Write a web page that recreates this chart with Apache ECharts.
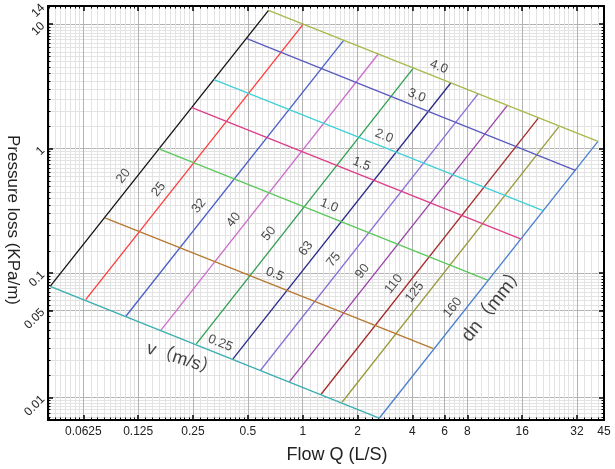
<!DOCTYPE html>
<html><head><meta charset="utf-8">
<script src="https://cdn.jsdelivr.net/npm/echarts@6/dist/echarts.min.js"></script>
<style>html,body{margin:0;padding:0;background:#fff}#c{width:615px;height:469px}</style>
</head><body><div id="c"></div>
<script>
// ---- axes (flow Q in L/S on a base-2 log scale, pressure loss in KPa/m on a base-10 log scale)
const xRange = [0.04, 45];
const yRange = [0.0066, 14];
const xTickLabels = ['0.0625','0.125','0.25','0.5','1','2','4','6','8','16','32','45'];
const xTickValues = [0.0625,0.125,0.25,0.5,1,2,4,6,8,16,32,45];
const yTickLabels = ['0.01','0.05','0.1','1','10','14'];
const yTickValues = [0.01,0.05,0.1,1,10,14];

// ---- pipe diameter lines dn (mm): end on v=0.25 line (low) and on v=4.0 line (high)
const diameters = ['20','25','32','40','50','63','75','90','110','125','160'];
const dnQLow  = [0.0411,0.0644,0.1070,0.1664,0.2607,0.4141,0.5867,0.8457,1.261,1.643,2.629];
const dnJLow  = [0.0783,0.0612,0.0450,0.0347,0.0270,0.02046,0.01657,0.01344,0.01063,0.00917,0.00682];
const dnQHigh = [0.649,1.009,1.677,2.596,4.035,6.49,9.19,13.25,19.57,25.41,41.7];
const dnJHigh = [12.91,10.04,7.41,5.76,4.42,3.37,2.765,2.215,1.751,1.494,1.144];

// ---- velocity lines v (m/s): end on dn20 (left) and on dn160 (right)
const velocities = ['0.25','0.5','1.0','1.5','2.0','3.0','4.0'];
const vQLeft  = [0.0411,0.0821,0.1627,0.2449,0.3257,0.4937,0.649];
const vJLeft  = [0.0783,0.2775,0.9945,2.146,3.583,7.65,12.91];
const vQRight = [2.629,5.21,10.42,15.68,20.85,31.36,41.7];
const vJRight = [0.00682,0.02474,0.0875,0.1883,0.3177,0.669,1.144];

// ---- annotation texts
const annTexts = ['dn\uFF08mm\uFF09', 'v\uFF08m/s\uFF09'];
const annQ = [11.2, 0.218];
const annJ = [0.0564, 0.0202];

// ---- styles
const dnColors = ['#111111','#ff3b3b','#4a5fc8','#cc6fcc','#2e9e4f','#2a2a8a','#8a6fd6','#9b3fa8','#a52a2a','#9a9a3a','#4a7fd0'];
const vColors  = ['#3aaeb0','#b8772f','#5ac85a','#dd3d88','#3fd0d8','#5a5ac0','#a8b84a'];
const FONT = 'Liberation Sans, Arial, Noto Sans CJK SC, sans-serif';

const L2 = Math.log2, L10 = Math.log10;
const xMin = L2(xRange[0]), xMax = L2(xRange[1]);
const yMin = L10(yRange[0]), yMax = L10(yRange[1]);
const xMajor = xTickValues.map(L2);
const yMajor = yTickValues.map(L10);
const xMinor = [];
for (let k = -5; k <= 5; k++) for (let m = 11; m <= 19; m++) {
  const q = Math.pow(2, k) * m / 10;
  if (q > xRange[0] && q < xRange[1]) xMinor.push(L2(q));
}
const yMinor = [];
for (let k = -3; k <= 1; k++) for (let m = 3; m <= 19; m++) {
  const q = Math.pow(10, k) * m / 2;
  if (q > yRange[0] && q < yRange[1]) yMinor.push(L10(q));
}
function nearest(v, vals, labels, f) {
  let best = 0, bd = Infinity;
  vals.forEach((q, i) => { const d = Math.abs(f(q) - v); if (d < bd) { bd = d; best = i; } });
  return labels[best];
}

const series = [];
diameters.forEach((d, i) => {
  series.push({
    type: 'line', name: 'dn' + d, xAxisIndex: 2, yAxisIndex: 2, silent: true,
    symbol: 'none', lineStyle: { color: dnColors[i], width: 1.3 },
    data: [[L2(dnQLow[i]), L10(dnJLow[i])], [L2(dnQHigh[i]), L10(dnJHigh[i])]]
  });
});
velocities.forEach((v, i) => {
  series.push({
    type: 'line', name: 'v' + v, xAxisIndex: 2, yAxisIndex: 2, silent: true,
    symbol: 'none', lineStyle: { color: vColors[i], width: 1.3 },
    data: [[L2(vQLeft[i]), L10(vJLeft[i])], [L2(vQRight[i]), L10(vJRight[i])]]
  });
});
// labels along the lines
const tDn = 0.375, tV = 0.505;
series.push({
  type: 'scatter', xAxisIndex: 2, yAxisIndex: 2, silent: true, symbolSize: 1,
  itemStyle: { color: 'rgba(0,0,0,0)' },
  label: { show: true, position: 'inside', formatter: '{b}', rotate: 51.6, offset: [0, -11],
           fontSize: 13, color: '#1a1a1a', fontFamily: FONT },
  data: diameters.map((d, i) => ({
    name: d,
    value: [L2(dnQLow[i]) + tDn * (L2(dnQHigh[i]) - L2(dnQLow[i])),
            L10(dnJLow[i]) + tDn * (L10(dnJHigh[i]) - L10(dnJLow[i]))]
  }))
});
series.push({
  type: 'scatter', xAxisIndex: 2, yAxisIndex: 2, silent: true, symbolSize: 1,
  itemStyle: { color: 'rgba(0,0,0,0)' },
  label: { show: true, position: 'inside', formatter: '{b}', rotate: -21.7, offset: [0, -10.5],
           fontSize: 13, color: '#1a1a1a', fontFamily: FONT },
  data: velocities.map((v, i) => ({
    name: v,
    value: [L2(vQLeft[i]) + tV * (L2(vQRight[i]) - L2(vQLeft[i])),
            L10(vJLeft[i]) + tV * (L10(vJRight[i]) - L10(vJLeft[i]))]
  }))
});
series.push({
  type: 'scatter', xAxisIndex: 2, yAxisIndex: 2, silent: true, symbolSize: 1,
  itemStyle: { color: 'rgba(0,0,0,0)' },
  label: { show: true, position: 'inside', formatter: '{b}', fontSize: 19, color: '#111', fontFamily: FONT },
  data: [
    { name: annTexts[0], value: [L2(annQ[0]), L10(annJ[0])], label: { rotate: 51.6 } },
    { name: annTexts[1], value: [L2(annQ[1]), L10(annJ[1])], label: { rotate: -18, fontSize: 18 } }
  ]
});

const axisLineStyle = { show: true, onZero: false, lineStyle: { color: '#000', width: 2 } };
const noLine = { show: false, onZero: false };
const minorTick = (vals) => ({ show: true, inside: true, length: 2.5, customValues: vals, lineStyle: { color: '#000', width: 1 } });
const majorTick = (vals) => ({ show: true, inside: true, length: 5, customValues: vals, lineStyle: { color: '#000', width: 1.5 } });
const minorSplit = { show: true, lineStyle: { color: '#e3e3e3', width: 1 } };
const majorSplit = { show: true, lineStyle: { color: '#b3b3b3', width: 1 } };

const option = {
  animation: false,
  backgroundColor: '#fff',
  grid: { left: 48, right: 11, top: 6, bottom: 49, containLabel: false, outerBoundsMode: 'none' },
  xAxis: [
    { type: 'value', position: 'bottom', min: xMin, max: xMax, axisLine: noLine, axisTick: minorTick(xMinor),
      axisLabel: { show: false }, splitLine: minorSplit },
    { type: 'value', position: 'top', min: xMin, max: xMax, axisLine: noLine, axisTick: minorTick(xMinor),
      axisLabel: { show: false }, splitLine: { show: false } },
    { type: 'value', position: 'bottom', min: xMin, max: xMax, axisLine: axisLineStyle, axisTick: majorTick(xMajor),
      axisLabel: { customValues: xMajor, margin: 6, fontSize: 12, color: '#222', fontFamily: FONT,
                   formatter: v => nearest(v, xTickValues, xTickLabels, L2) },
      splitLine: majorSplit,
      name: 'Flow Q (L/S)', nameLocation: 'middle', nameGap: 26, nameMoveOverlap: false,
      nameTextStyle: { fontSize: 18, color: '#222', fontFamily: FONT, padding: [0, 0, 0, 22] } },
    { type: 'value', position: 'top', min: xMin, max: xMax, axisLine: axisLineStyle, axisTick: majorTick(xMajor),
      axisLabel: { show: false }, splitLine: { show: false } }
  ],
  yAxis: [
    { type: 'value', position: 'left', min: yMin, max: yMax, axisLine: noLine, axisTick: minorTick(yMinor),
      axisLabel: { show: false }, splitLine: minorSplit },
    { type: 'value', position: 'right', min: yMin, max: yMax, axisLine: noLine, axisTick: minorTick(yMinor),
      axisLabel: { show: false }, splitLine: { show: false } },
    { type: 'value', position: 'left', min: yMin, max: yMax, axisLine: axisLineStyle, axisTick: majorTick(yMajor),
      axisLabel: { customValues: yMajor, rotate: 45, margin: 5, fontSize: 12, color: '#222', fontFamily: FONT,
                   formatter: v => nearest(v, yTickValues, yTickLabels, L10) },
      splitLine: majorSplit,
      name: 'Pressure loss (KPa/m)', nameLocation: 'middle', nameRotate: -90, nameGap: 27, nameMoveOverlap: false,
      nameTextStyle: { fontSize: 17, color: '#222', fontFamily: FONT, padding: [0, 0, 0, 14] } },
    { type: 'value', position: 'right', min: yMin, max: yMax, axisLine: axisLineStyle, axisTick: majorTick(yMajor),
      axisLabel: { show: false }, splitLine: { show: false } }
  ],
  series: series
};
const chart = echarts.init(document.getElementById('c'), null, { renderer: 'canvas' });
chart.setOption(option);
</script>
</body></html>
